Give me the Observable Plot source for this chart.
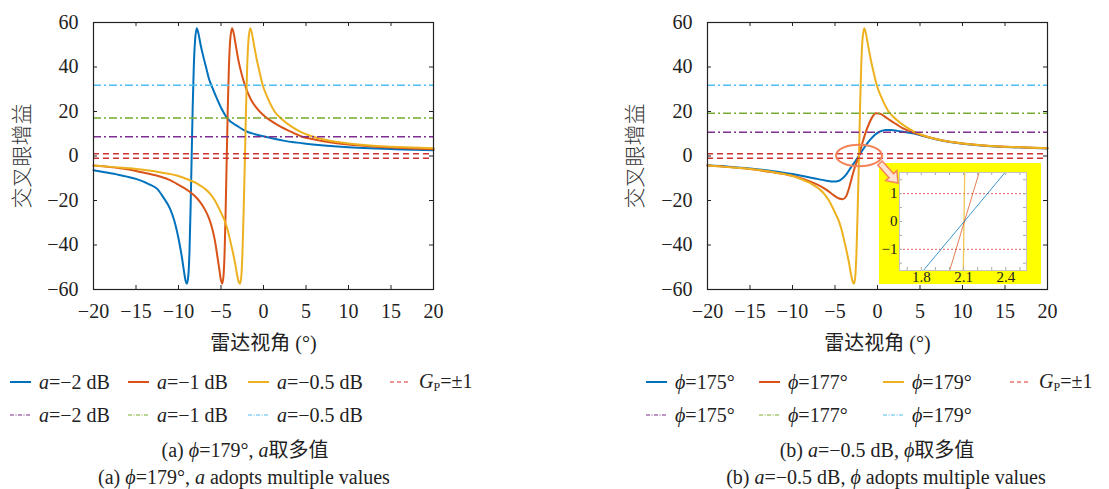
<!DOCTYPE html>
<html><head><meta charset="utf-8">
<script src="https://cdn.jsdelivr.net/npm/d3@7"></script>
<script src="https://cdn.jsdelivr.net/npm/@observablehq/plot@0.6"></script>
<style>
body{margin:0;background:#fff;width:1109px;height:489px;position:relative;overflow:hidden;
 font-family:"Liberation Serif","DejaVu Serif","Noto Sans CJK SC",serif;color:#222}
.abs{position:absolute}
.abs svg{font-size:20px !important;font-family:"Liberation Serif","DejaVu Serif","Noto Sans CJK SC",serif !important}
#inset svg{font-size:15px !important}
.abs svg text{font-family:"Liberation Serif","DejaVu Serif","Noto Sans CJK SC",serif !important}
.abs svg text.cjk{font-family:"Noto Sans CJK SC",sans-serif !important}
.leg{position:absolute;display:flex;align-items:center;gap:8px;font-size:20px;height:26px;white-space:nowrap}
.leg svg{display:block}
.cap{position:absolute;width:600px;text-align:center;font-size:20px;white-space:nowrap;line-height:24px}
sub{font-size:12px;vertical-align:-3px}
</style></head>
<body>
<div id="left" class="abs" style="left:0;top:0;z-index:2"></div>
<div id="inset" class="abs" style="left:879px;top:163px;z-index:1"></div>
<div id="right" class="abs" style="left:614px;top:0;z-index:2"></div>
<div id="legends"></div>
<script>
// ---------- data ----------
const xTicks = [-20, -15, -10, -5, 0, 5, 10, 15, 20];
const yTicks = [-60, -40, -20, 0, 20, 40, 60];

// (a) phi = 179°, a = -2 dB
const curveA2 = [[-20,-6.4],[-18.5,-7.4],[-17,-8.5],[-15,-10.3],[-13.5,-12.6],[-12.5,-14.8],[-11.8,-18.5],[-11,-23.7],[-10.5,-29],[-10.2,-33.5],[-9.9,-39],[-9.6,-45.5],[-9.35,-52],[-9.15,-56.3],[-9.02,-57.4],[-8.85,-54],[-8.7,-42],[-8.57,-22],[-8.45,0],[-8.33,22],[-8.2,40],[-8.05,52],[-7.85,57.4],[-7.65,55],[-7.4,50],[-7.1,45],[-6.7,39],[-6.4,34.5],[-6.1,31.5],[-5.5,26],[-4.9,21],[-4.3,17.1],[-3,13.3],[-2,11],[-1,9.8],[0,8.85],[2.5,6.8],[5,5.5],[7.5,4.6],[10,3.95],[12.5,3.5],[15,3.15],[17.5,2.85],[20,2.6]];
// (a) phi = 179°, a = -1 dB
const curveA1 = [[-20,-4.3],[-18,-5.0],[-16,-6.0],[-15,-6.7],[-13.5,-8.0],[-12.2,-9.2],[-11,-10.8],[-10.2,-12.5],[-9.4,-14.2],[-8.6,-16.3],[-8,-18.3],[-7.45,-20.7],[-6.9,-24],[-6.47,-27.5],[-6.15,-31],[-5.88,-35],[-5.65,-39.5],[-5.41,-45.5],[-5.2,-51],[-5.02,-55.5],[-4.87,-57.4],[-4.72,-54.5],[-4.58,-44],[-4.45,-24],[-4.32,0],[-4.2,22],[-4.07,40],[-3.92,52],[-3.7,57.4],[-3.5,55],[-3.25,49.5],[-2.95,43],[-2.55,36.5],[-2.2,32],[-1.5,25.5],[-0.8,21.5],[0,18.3],[0.8,16],[2,13.2],[3,11.3],[4.4,8.9],[6,7.4],[8,6.1],[10,5.2],[12.5,4.4],[15,3.8],[17.5,3.35],[20,3.05]];
// a = -0.5 dB, phi = 179° (same curve in both panels)
const curveA05Phi179 = [[-20,-4.3],[-17.5,-5.0],[-15,-5.8],[-13.5,-6.5],[-12.2,-7.3],[-11,-8.1],[-10.2,-8.8],[-9.4,-9.8],[-8.6,-11.0],[-8,-12.0],[-7.45,-13.3],[-6.8,-15],[-6.27,-17],[-5.75,-19.8],[-5.3,-23],[-4.9,-26.2],[-4.5,-29.7],[-4.2,-33.5],[-3.92,-38],[-3.62,-43],[-3.33,-48.5],[-3.1,-53.5],[-2.92,-56.5],[-2.77,-57.4],[-2.62,-54.5],[-2.48,-44],[-2.33,-24],[-2.18,0],[-2.05,22],[-1.92,40],[-1.77,52],[-1.56,57.4],[-1.36,55],[-1.1,49.5],[-0.8,43.5],[-0.45,37.5],[-0.1,32],[0.5,26],[1.3,20],[2.27,16.2],[3.3,13.2],[4.3,11.0],[5.6,9.0],[7,7.5],[8.5,6.4],[10,5.6],[12.5,4.7],[15,4.2],[17.5,3.8],[20,3.5]];
// (b) a = -0.5 dB, phi = 175°
const curvePhi175 = [[-20,-4.2],[-17.5,-4.8],[-15,-5.6],[-12.5,-6.7],[-10,-8.1],[-8.5,-9.2],[-7,-10.4],[-6,-11.1],[-5.2,-11.5],[-4.6,-11.2],[-4.1,-10.0],[-3.6,-7.9],[-3.1,-5.0],[-2.65,-2.6],[-2.2,0],[-1.75,2.7],[-1.3,5.2],[-0.8,7.6],[-0.3,9.6],[0.3,11.0],[1.0,11.7],[1.6,11.7],[2.3,11.3],[3.0,10.9],[4.3,10.1],[5.6,8.8],[7,7.4],[8.5,6.3],[10,5.5],[12.5,4.6],[15,4.1],[17.5,3.7],[20,3.4]];
// (b) a = -0.5 dB, phi = 177°
const curvePhi177 = [[-20,-4.3],[-17.5,-5.0],[-15,-5.9],[-12.5,-7.2],[-10,-8.9],[-8.5,-10.6],[-7,-13.0],[-6,-15.2],[-5.2,-17.5],[-4.6,-19.0],[-4.1,-19.4],[-3.7,-18.2],[-3.35,-14.5],[-3.0,-9.5],[-2.6,-4.3],[-2.2,0],[-1.8,5.5],[-1.4,10.5],[-1.0,14.5],[-0.6,17.6],[-0.2,19.2],[0.3,19.0],[0.9,17.6],[1.5,16.0],[2.2,14.3],[3.0,12.4],[4.3,10.4],[5.6,8.9],[7,7.5],[8.5,6.4],[10,5.6],[12.5,4.7],[15,4.2],[17.5,3.8],[20,3.5]];

const levelsA = [8.7, 17.1, 31.8];     // dash-dot levels, a = -2, -1, -0.5 dB
const levelsPhi = [10.65, 19.2, 31.8]; // dash-dot levels, phi = 175, 177, 179
const gpLevels = [1, -1];

// inset (zoom around zero crossing)
const insetXTicks = [1.8, 2.1, 2.4];
const insetYTicks = [-1, 0, 1];
const insetXMinor = [1.7, 1.8, 1.9, 2.0, 2.1, 2.2, 2.3, 2.4, 2.5];
const insetYMinor = [-1.5, -1, -0.5, 0, 0.5, 1, 1.5];
const insetBlue = [[1.816,-1.75],[2.393,1.75]];
const insetRed = [[2.002,-1.75],[2.21,1.75]];
const insetYellow = [[2.098,-1.75],[2.108,1.75]];

const legendA = ["<i>a</i>=−2 dB", "<i>a</i>=−1 dB", "<i>a</i>=−0.5 dB"];
const legendPhi = ["<i>ϕ</i>=175°", "<i>ϕ</i>=177°", "<i>ϕ</i>=179°"];
const legendGp = "<i>G</i><sub>P</sub>=±1";
const captionsA = ["(a) <i>ϕ</i>=179°, <i>a</i>取多值", "(a) <i>ϕ</i>=179°, <i>a</i> adopts multiple values"];
const captionsB = ["(b) <i>a</i>=−0.5 dB, <i>ϕ</i>取多值", "(b) <i>a</i>=−0.5 dB, <i>ϕ</i> adopts multiple values"];
const xLabel = "雷达视角 (°)";
const yLabel = "交叉眼增益";

// ---------- styles ----------
const solidColors = ["#0072BD", "#D95319", "#EDB120"];
const dashDotColors = ["#7E2F8E", "#77AC30", "#4DBEEE"];
const gpColor = "#CC3333";

function mainChart(curves, levels, ylabDx) {
  const W = 450, H = 360, mL = 93, mR = 17, mT = 22, mB = 71;
  const pw = W - mL - mR, ph = H - mT - mB;
  const svg = Plot.plot({
    width: W, height: H, marginLeft: mL, marginRight: mR, marginTop: mT, marginBottom: mB,
    x: {domain: [-20, 20]},
    y: {domain: [-60, 60]},
    style: {background: "transparent", color: "#222", overflow: "visible"},
    marks: [
      ...curves.map((c, i) => Plot.line(c, {x: d => d[0], y: d => d[1], stroke: solidColors[i], strokeWidth: 2, curve: "monotone-x"})),
      Plot.ruleY(gpLevels, {stroke: gpColor, strokeWidth: 1.6, strokeDasharray: "6,4"}),
      ...levels.map((v, i) => Plot.ruleY([v], {stroke: dashDotColors[i], strokeWidth: 1.5, strokeDasharray: "8,3,2,3"})),
      Plot.frame({stroke: "#222", strokeWidth: 1.2}),
      Plot.tickX(xTicks, {x: d => d, insetBottom: ph - 4, stroke: "#222"}),
      Plot.tickX(xTicks, {x: d => d, insetTop: ph - 4, stroke: "#222"}),
      Plot.tickY(yTicks, {y: d => d, insetRight: pw - 4, stroke: "#222"}),
      Plot.tickY(yTicks, {y: d => d, insetLeft: pw - 4, stroke: "#222"}),
      Plot.axisX(xTicks, {tickSize: 0, tickPadding: 14, label: null}),
      Plot.axisY(yTicks, {tickSize: 0, tickPadding: 15, label: null}),
      Plot.text([xLabel], {frameAnchor: "bottom", lineAnchor: "middle", textAnchor: "middle", dy: 54, fontSize: 20, fill: "#222"}),
      Plot.text([yLabel], {frameAnchor: "left", lineAnchor: "middle", textAnchor: "middle", dx: ylabDx, rotate: -90, fontSize: 21, fill: "#333", fontWeight: 300})
    ]
  });
  d3.select(svg).selectAll("text").filter(function () { return this.textContent === yLabel; }).classed("cjk", true);
  return svg;
}

const left = mainChart([curveA2, curveA1, curveA05Phi179], levelsA, -71);
document.getElementById("left").appendChild(left);
const right = mainChart([curvePhi175, curvePhi177, curveA05Phi179], levelsPhi, -72);
document.getElementById("right").appendChild(right);

// inset
const iph = 121 - 9 - 14, ipw = 162 - 20 - 15;
const inset = Plot.plot({
  width: 162, height: 121, marginLeft: 20, marginRight: 15, marginTop: 9, marginBottom: 14,
  x: {domain: [1.645, 2.547]},
  y: {domain: [-1.76, 1.76]},
  style: {background: "#FFFF00", color: "#222", overflow: "visible"},
  marks: [
    Plot.frame({fill: "white", stroke: "none"}),
    Plot.ruleY(gpLevels, {stroke: "#d9534f", strokeWidth: 0.9, strokeDasharray: "2,2"}),
    Plot.line(insetYellow, {x: d => d[0], y: d => d[1], stroke: "#EDB120", strokeWidth: 1.3, strokeOpacity: 0.75, clip: true}),
    Plot.line(insetRed, {x: d => d[0], y: d => d[1], stroke: "#D95319", strokeWidth: 1, strokeOpacity: 0.75, clip: true}),
    Plot.line(insetBlue, {x: d => d[0], y: d => d[1], stroke: "#0072BD", strokeWidth: 1, strokeOpacity: 0.75, clip: true}),
    Plot.tickX(insetXMinor, {x: d => d, insetBottom: iph - 3, stroke: "#aaa"}),
    Plot.tickX(insetXMinor, {x: d => d, insetTop: iph - 3, stroke: "#aaa"}),
    Plot.tickY(insetYMinor, {y: d => d, insetRight: ipw - 3, stroke: "#aaa"}),
    Plot.tickY(insetYMinor, {y: d => d, insetLeft: ipw - 3, stroke: "#aaa"}),
    Plot.frame({stroke: "#c4c4c4"}),
    Plot.axisX(insetXTicks, {tickSize: 0, tickPadding: 1, label: null}),
    Plot.axisY(insetYTicks, {tickSize: 0, tickPadding: 2, label: null})
  ]
});
document.getElementById("inset").appendChild(inset);

// annotation: ellipse around crossing + hollow arrow to inset
{
  const sx = right.scale("x"), sy = right.scale("y");
  const svg = d3.select(right);
  const cx = sx.apply(-2.12), cy = sy.apply(0);
  const rx = sx.apply(0.58) - cx, ry = sy.apply(0) - sy.apply(4.85);
  svg.append("ellipse").attr("cx", cx).attr("cy", cy).attr("rx", rx).attr("ry", ry)
    .attr("fill", "none").attr("stroke", "#F4845A").attr("stroke-width", 2);
  const S = [sx.apply(0.35), sy.apply(-3.4)], T = [sx.apply(2.47), sy.apply(-12.4)];
  const dx = T[0] - S[0], dy = T[1] - S[1], L = Math.hypot(dx, dy);
  const u = [dx / L, dy / L], n = [-u[1], u[0]];
  const hw = 3, hh = 7.5, hl = 10;
  const Hc = [T[0] - u[0] * hl, T[1] - u[1] * hl];
  const p = (b, k) => [b[0] + n[0] * k, b[1] + n[1] * k];
  const pts = [p(S, hw), p(Hc, hw), p(Hc, hh), T, p(Hc, -hh), p(Hc, -hw), p(S, -hw)];
  svg.append("polygon").attr("points", pts.map(q => q.join(",")).join(" "))
    .attr("fill", "#FDE3D6").attr("stroke", "#F4845A").attr("stroke-width", 1.5);
}

// ---------- legends & captions ----------
const L = document.getElementById("legends");
function item(x, yc, color, w, dash, html) {
  const d = document.createElement("div");
  d.className = "leg";
  d.style.left = x + "px";
  d.style.top = (yc - 13) + "px";
  d.innerHTML = `<svg width="21" height="26"><line x1="0" x2="21" y1="13" y2="13" stroke="${color}" stroke-width="${w}" ${dash ? `stroke-dasharray="${dash}"` : ""}/></svg><span>${html}</span>`;
  L.appendChild(d);
}
function caption(xc, yc, html) {
  const d = document.createElement("div");
  d.className = "cap";
  d.style.left = (xc - 300) + "px";
  d.style.top = (yc - 12) + "px";
  d.innerHTML = html;
  L.appendChild(d);
}
const leftX = [10, 128, 248, 390], rightX = [646, 759, 883, 1010];
legendA.forEach((t, i) => { item(leftX[i], 382, solidColors[i], 2, null, t); item(leftX[i], 415, dashDotColors[i], 1.2, "4,1.5,1,1.5", t); });
item(leftX[3], 382, "#E03030", 1.2, "4,3", legendGp);
legendPhi.forEach((t, i) => { item(rightX[i], 382, solidColors[i], 2, null, t); item(rightX[i], 415, dashDotColors[i], 1.2, "4,1.5,1,1.5", t); });
item(rightX[3], 382, "#E03030", 1.2, "4,3", legendGp);
caption(245, 450, captionsA[0]);
caption(244, 477, captionsA[1]);
caption(877, 450, captionsB[0]);
caption(886, 477, captionsB[1]);
</script>
</body></html>
